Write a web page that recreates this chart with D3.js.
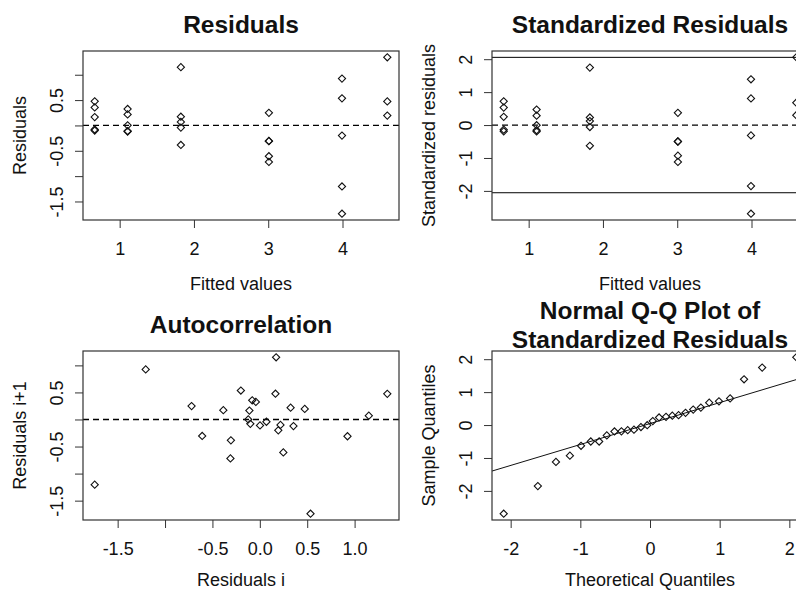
<!DOCTYPE html>
<html>
<head>
<meta charset="utf-8">
<script src="https://cdn.jsdelivr.net/npm/d3@7"></script>
<style>
  body { margin: 0; background: #fff; }
  text { font-family: "Liberation Sans", Arial, sans-serif; fill: #111; }
</style>
</head>
<body>
<script>
// observations in data order (fitted value, residual, standardized residual)
var fitted = [4.603, 4.603, 4.603,
              3.993, 3.993, 3.993, 3.993, 3.993,
              3.009, 3.009, 3.009, 3.009, 3.009,
              1.824, 1.824, 1.824, 1.824, 1.824,
              1.107, 1.107, 0.664, 0.664, 0.664,
              1.107, 1.107, 1.107, 0.664, 0.664];
var residuals = [1.345, 0.474, 0.195,
                 -0.200, 0.535, -1.742, -1.204, 0.925,
                 -0.310, -0.720, 0.248, -0.608, -0.305,
                 -0.385, 0.172, 1.150, 0.070, -0.042,
                 0.325, 0.218, -0.100, -0.080, 0.355,
                 -0.122, 0.002, -0.110, 0.165, 0.476];
var stdResiduals = [2.059, 0.680, 0.300,
                    -0.314, 0.810, -2.694, -1.853, 1.390,
                    -0.500, -1.120, 0.370, -0.930, -0.500,
                    -0.630, 0.230, 1.745, 0.120, -0.060,
                    0.470, 0.285, -0.190, -0.140, 0.530,
                    -0.195, -0.005, -0.155, 0.250, 0.720];
// theoretical normal quantiles for the 28 sorted standardized residuals
var theoQuantiles = [-2.10, -1.61, -1.35, -1.15, -0.99, -0.85, -0.73, -0.62, -0.51, -0.41,
                     -0.32, -0.23, -0.13, -0.04, 0.04, 0.13, 0.23, 0.32, 0.41, 0.51,
                     0.62, 0.73, 0.85, 0.99, 1.15, 1.35, 1.61, 2.10];
var qqLine = [0.045, 0.636];      // intercept, slope
var tCrit = 2.056;                // reference lines on standardized plot

// ticks and tick labels
var fitTicks = [1, 2, 3, 4];
var residTicks = [-1.5, -1, -0.5, 0, 0.5, 1];
var residTickLabels = ["-1.5", "", "-0.5", "", "0.5", ""];
var lagTicks = [-1.5, -1, -0.5, 0, 0.5, 1];
var lagTickLabels = ["-1.5", "", "-0.5", "0.0", "0.5", "1.0"];
var stdTicks = [-2, -1, 0, 1, 2];
var qqTicks = [-2, -1, 0, 1, 2];

var W = 796, H = 591, PW = 316, PH = 169;

var svg = d3.select("body").append("svg")
    .attr("width", W)
    .attr("height", H);

// R style range: data extent widened by 4% each side
function rRange(vals) {
  var e = d3.extent(vals), r = e[1] - e[0];
  return [e[0] - 0.04 * r, e[1] + 0.04 * r];
}

function panel(o) {
  var x = d3.scaleLinear().domain(o.xDomain).range([o.left, o.left + PW]);
  var y = d3.scaleLinear().domain(o.yDomain).range([o.top + PH, o.top]);
  var id = "clip" + o.left + "_" + o.top;
  svg.append("clipPath").attr("id", id)
    .append("rect").attr("x", o.left).attr("y", o.top).attr("width", PW).attr("height", PH);
  var g = svg.append("g");
  var inner = g.append("g").attr("clip-path", "url(#" + id + ")");

  // x axis
  var xa = g.append("g")
      .attr("transform", "translate(0," + (o.top + PH) + ")")
      .call(d3.axisBottom(x).tickValues(o.xTicks).tickSize(8)
            .tickFormat(function(d, i) { return o.xLabels ? o.xLabels[i] : String(d); }));
  xa.select(".domain").remove();
  xa.selectAll("line").attr("stroke", "#333");
  xa.selectAll("text").attr("y", 35).attr("dy", 0)
      .style("font-size", "18px").attr("fill", "#111");

  // y axis, labels parallel to the axis
  var ya = g.append("g")
      .attr("transform", "translate(" + o.left + ",0)")
      .call(d3.axisLeft(y).tickValues(o.yTicks).tickSize(8)
            .tickFormat(function(d, i) { return o.yLabels ? o.yLabels[i] : String(d); }));
  ya.select(".domain").remove();
  ya.selectAll("line").attr("stroke", "#333");
  ya.selectAll("text").attr("x", 0).attr("dy", 0)
      .attr("transform", "translate(-20,0) rotate(-90)")
      .attr("text-anchor", "middle")
      .style("font-size", "18px").attr("fill", "#111");

  // axis titles
  g.append("text").attr("x", o.left + PW / 2).attr("y", o.top + PH + (o.xlabGap || 70))
      .attr("text-anchor", "middle").style("font-size", "18px").text(o.xlab);
  g.append("text")
      .attr("transform", "translate(" + (o.left - 57) + "," + (o.top + PH / 2) + ") rotate(-90)")
      .attr("text-anchor", "middle").style("font-size", "18px").text(o.ylab);

  // main title (one or two lines)
  var lines = o.title;
  var lh = 29;
  lines.forEach(function(t, i) {
    g.append("text")
      .attr("x", o.left + PW / 2)
      .attr("y", o.top - 18 - (lines.length - 1) * lh / 2 + i * lh)
      .attr("text-anchor", "middle")
      .style("font-size", "24.5px").style("font-weight", "bold")
      .text(t);
  });

  o.draw(inner, x, y);

  // points
  inner.selectAll(".pt")
    .data(o.points)
    .join("path")
      .attr("class", "pt")
      .attr("d", d3.symbol().type(d3.symbolSquare).size(26))
      .attr("transform", function(d) { return "translate(" + x(d[0]) + "," + y(d[1]) + ") rotate(45)"; })
      .attr("fill", "none")
      .attr("stroke", "#111")
      .attr("stroke-width", 1.1);

  g.append("rect")
      .attr("x", o.left).attr("y", o.top).attr("width", PW).attr("height", PH)
      .attr("fill", "none").attr("stroke", "#333").attr("stroke-width", 1.2);
}

function hline(sel, x, y, v, dashed) {
  sel.append("line")
    .attr("x1", x.range()[0]).attr("x2", x.range()[1])
    .attr("y1", y(v)).attr("y2", y(v))
    .attr("stroke", "#000").attr("stroke-width", dashed ? 1.3 : 1)
    .attr("stroke-dasharray", dashed ? "6,4" : null);
}

// 1. residuals vs fitted
panel({
  left: 83, top: 51,
  xDomain: rRange(fitted), yDomain: rRange(residuals),
  xTicks: fitTicks, yTicks: residTicks, yLabels: residTickLabels,
  title: ["Residuals"], xlab: "Fitted values", ylab: "Residuals",
  points: fitted.map(function(f, i) { return [f, residuals[i]]; }),
  draw: function(g, x, y) { hline(g, x, y, 0, true); }
});

// 2. standardized residuals vs fitted
panel({
  left: 492, top: 51,
  xDomain: rRange(fitted), yDomain: rRange(stdResiduals),
  xTicks: fitTicks, yTicks: stdTicks,
  title: ["Standardized Residuals"], xlab: "Fitted values", ylab: "Standardized residuals",
  points: fitted.map(function(f, i) { return [f, stdResiduals[i]]; }),
  draw: function(g, x, y) {
    hline(g, x, y, 0, true);
    hline(g, x, y, tCrit, false);
    hline(g, x, y, -tCrit, false);
  }
});

// 3. autocorrelation: residual i vs residual i+1
var lagX = residuals.slice(0, -1), lagY = residuals.slice(1);
panel({
  left: 83, top: 351, xlabGap: 66,
  xDomain: rRange(lagX), yDomain: rRange(lagY),
  xTicks: lagTicks, xLabels: lagTickLabels, yTicks: residTicks, yLabels: residTickLabels,
  title: ["Autocorrelation"], xlab: "Residuals i", ylab: "Residuals i+1",
  points: lagX.map(function(v, i) { return [v, lagY[i]]; }),
  draw: function(g, x, y) { hline(g, x, y, 0, true); }
});

// 4. normal QQ plot of standardized residuals
var sortedStd = stdResiduals.slice().sort(d3.ascending);
panel({
  left: 492, top: 351, xlabGap: 66,
  xDomain: rRange(theoQuantiles), yDomain: rRange(sortedStd),
  xTicks: qqTicks, yTicks: stdTicks,
  title: ["Normal Q-Q Plot of", "Standardized Residuals"],
  xlab: "Theoretical Quantiles", ylab: "Sample Quantiles",
  points: theoQuantiles.map(function(q, i) { return [q, sortedStd[i]]; }),
  draw: function(g, x, y) {
    var d = x.domain();
    g.append("line")
      .attr("x1", x(d[0])).attr("y1", y(qqLine[0] + qqLine[1] * d[0]))
      .attr("x2", x(d[1])).attr("y2", y(qqLine[0] + qqLine[1] * d[1]))
      .attr("stroke", "#111").attr("stroke-width", 1);
  }
});
</script>
</body>
</html>
